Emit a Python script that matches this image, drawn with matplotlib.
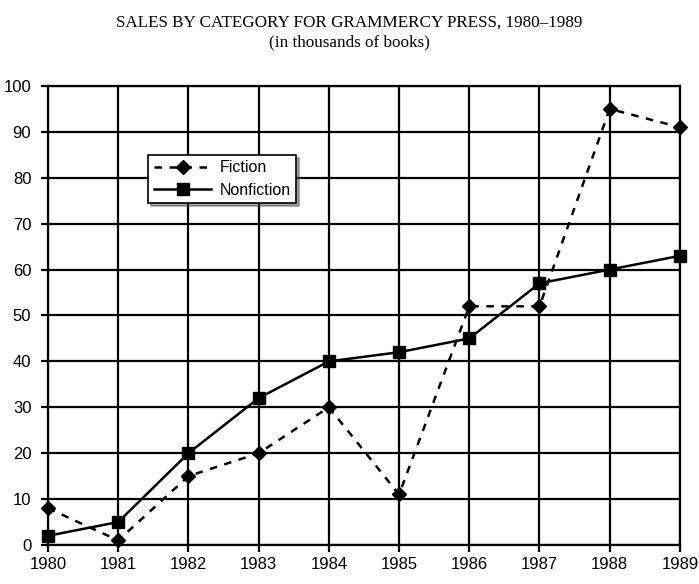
import matplotlib.pyplot as plt

# ======================================
# Data
# ======================================

years = [1980, 1981, 1982, 1983, 1984, 1985, 1986, 1987, 1988, 1989]
fiction = [8, 1, 15, 20, 30, 11, 52, 52, 95, 91]
nonfiction = [2, 5, 20, 32, 40, 42, 45, 57, 60, 63]
y_ticks = [0, 10, 20, 30, 40, 50, 60, 70, 80, 90, 100]

# ======================================
# Plot
# ======================================

plt.rcParams["font.family"] = "Liberation Sans"

fig = plt.figure(figsize=(6.99, 5.84), dpi=100)
ax = fig.add_axes([0.0687, 0.0668, 0.904, 0.786])

ax.plot(years, fiction, linestyle=(0, (3, 3)), color="black", linewidth=1.8,
        marker="D", markersize=7, label="Fiction", clip_on=False, zorder=3)
ax.plot(years, nonfiction, linestyle="-", color="black", linewidth=1.8,
        marker="s", markersize=8, label="Nonfiction", clip_on=False, zorder=3)

ax.set_xlim(1980, 1989)
ax.set_ylim(0, 100)
ax.set_xticks(years)
ax.set_yticks(y_ticks)
ax.grid(True, color="black", linewidth=1.6)
ax.set_axisbelow(True)

for sp in ax.spines.values():
    sp.set_linewidth(1.6)

ax.tick_params(axis="both", direction="out", length=5, width=1.6,
               labelsize=12)
ax.tick_params(axis="y", pad=7)

fig.text(0.5, 0.962, "SALES BY CATEGORY FOR GRAMMERCY PRESS, 1980\u20131989",
         ha="center", va="center", family="Liberation Serif", fontsize=12.3)
fig.text(0.5, 0.928, "(in thousands of books)",
         ha="center", va="center", family="Liberation Serif", fontsize=12.3)

leg = ax.legend(loc="upper left", bbox_to_anchor=(0.212, 0.735),
                bbox_transform=fig.transFigure, borderaxespad=0,
                fancybox=False, shadow=True,
                edgecolor="black", framealpha=1, fontsize=11.5,
                handlelength=3.6, handletextpad=0.5, borderpad=0.35,
                labelspacing=0.45)
leg.get_frame().set_linewidth(1.2)

plt.savefig("out.png", dpi=100)
plt.close()
